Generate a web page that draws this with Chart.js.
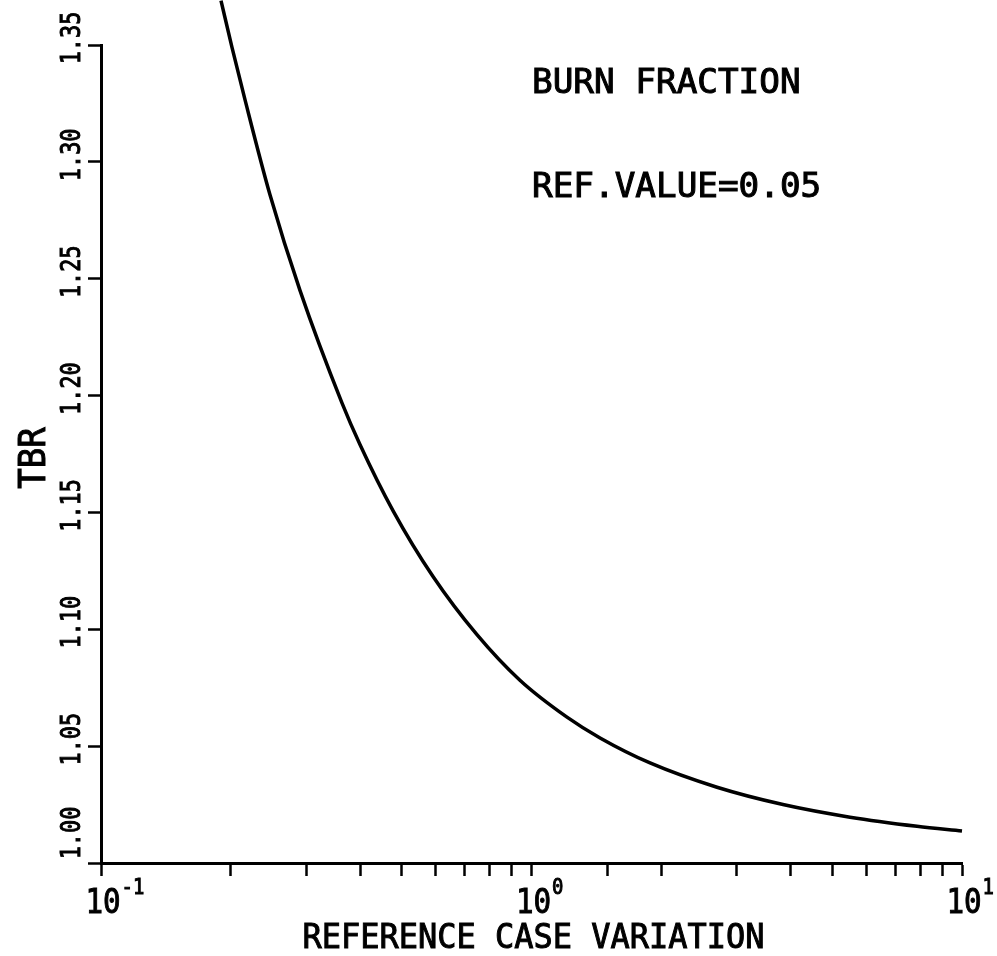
<!DOCTYPE html>
<html>
<head>
<meta charset="utf-8">
<script src="https://cdn.jsdelivr.net/npm/chart.js@4.4.0/dist/chart.umd.min.js"></script>
<style>
  html, body { margin: 0; padding: 0; background: #fff; }
  canvas { display: block; }
</style>
</head>
<body>
<canvas id="c" width="997" height="956"></canvas>
<script>
// ---- data ----
const xValues   = [0.190, 0.2015, 0.216, 0.247, 0.290, 0.363, 0.3995, 0.477, 0.590, 0.747, 0.940, 1.209, 1.443, 1.885, 2.697, 3.838, 5.493, 7.862, 10.0];
const tbrValues = [1.369, 1.349, 1.3266, 1.2858, 1.2449, 1.1968, 1.1791, 1.1507, 1.1227, 1.0977, 1.0782, 1.0624, 1.0535, 1.0428, 1.0324, 1.0250, 1.0196, 1.0157, 1.0137];

const yTickLabels = ['1.00', '1.05', '1.10', '1.15', '1.20', '1.25', '1.30', '1.35'];
const xTickValues = [0.1, 1, 10];
const xTickBase = '10';
const xTickExponents = ['-1', '0', '1'];

const xTitle = 'REFERENCE CASE VARIATION';
const yTitle = 'TBR';
const noteLines = ['BURN FRACTION', 'REF.VALUE=0.05'];

const FONT = '"DejaVu Sans Mono", "Liberation Mono", monospace';

function drawText(ctx, str, x, y, size, sx, align, rot) {
  ctx.save();
  ctx.translate(x, y);
  if (rot) ctx.rotate(rot);
  ctx.scale(sx, 1);
  ctx.font = size + 'px ' + FONT;
  ctx.textAlign = align;
  ctx.textBaseline = 'alphabetic';
  ctx.lineWidth = 1;
  ctx.strokeStyle = '#000';
  ctx.fillText(str, 0, 0);
  ctx.strokeText(str, 0, 0);
  ctx.restore();
}

const plotterText = {
  id: 'plotterText',
  afterDraw(chart) {
    const ctx = chart.ctx;
    const xs = chart.scales.x, ys = chart.scales.y;
    const area = chart.chartArea;
    ctx.save();
    ctx.fillStyle = '#000';

    // y tick labels (rotated, reading bottom to top)
    yTickLabels.forEach((lab, i) => {
      const py = ys.getPixelForValue(parseFloat(lab)) + (i === 0 ? -30 : -7);
      drawText(ctx, lab, area.left - 21, py, 27, 0.81, 'center', -Math.PI / 2);
    });

    // y title
    drawText(ctx, yTitle, 45, 458, 37, 0.92, 'center', -Math.PI / 2);

    // x tick labels: 10 with superscript exponent
    xTickValues.forEach((v, i) => {
      const px = xs.getPixelForValue(v) + 2;
      const size = 34, sx = 0.86;
      drawText(ctx, xTickBase, px, area.bottom + 50, size, sx, 'center');
      ctx.font = size + 'px ' + FONT;
      const w = ctx.measureText(xTickBase).width * sx;
      drawText(ctx, xTickExponents[i], px + w / 2 + 1, area.bottom + 31, 21, 0.9, 'left');
    });

    // x title
    drawText(ctx, xTitle, (area.left + area.right) / 2 + 2, 948, 34, 0.94, 'center');

    // annotation
    drawText(ctx, noteLines[0], 532, 93, 33, 1.04, 'left');
    drawText(ctx, noteLines[1], 532, 197, 33, 1.04, 'left');

    ctx.restore();
  }
};

new Chart(document.getElementById('c'), {
  type: 'line',
  data: {
    datasets: [{
      data: xValues.map((x, i) => ({ x: x, y: tbrValues[i] })),
      borderColor: '#000',
      borderWidth: 3.5,
      pointRadius: 0,
      cubicInterpolationMode: 'monotone',
      clip: false,
      fill: false
    }]
  },
  options: {
    responsive: false,
    animation: false,
    devicePixelRatio: 1,
    layout: { padding: { left: 0, top: 45, right: 35, bottom: 0 } },
    plugins: {
      legend: { display: false },
      tooltip: { enabled: false },
      title: { display: false }
    },
    scales: {
      x: {
        type: 'logarithmic',
        position: 'bottom',
        min: 0.1,
        max: 10,
        border: { display: true, color: '#000', width: 3 },
        grid: { drawOnChartArea: false, drawTicks: true, tickLength: 13, tickWidth: 2.5, tickColor: '#000' },
        ticks: { display: false },
        afterFit(s) { s.height = 93; }
      },
      y: {
        type: 'linear',
        position: 'left',
        min: 1.0,
        max: 1.35,
        border: { display: true, color: '#000', width: 3 },
        grid: { drawOnChartArea: false, drawTicks: true, tickLength: 13, tickWidth: 2.5, tickColor: '#000' },
        ticks: { display: false, stepSize: 0.05 },
        afterFit(s) { s.width = 101; }
      }
    }
  },
  plugins: [plotterText]
});
</script>
</body>
</html>
